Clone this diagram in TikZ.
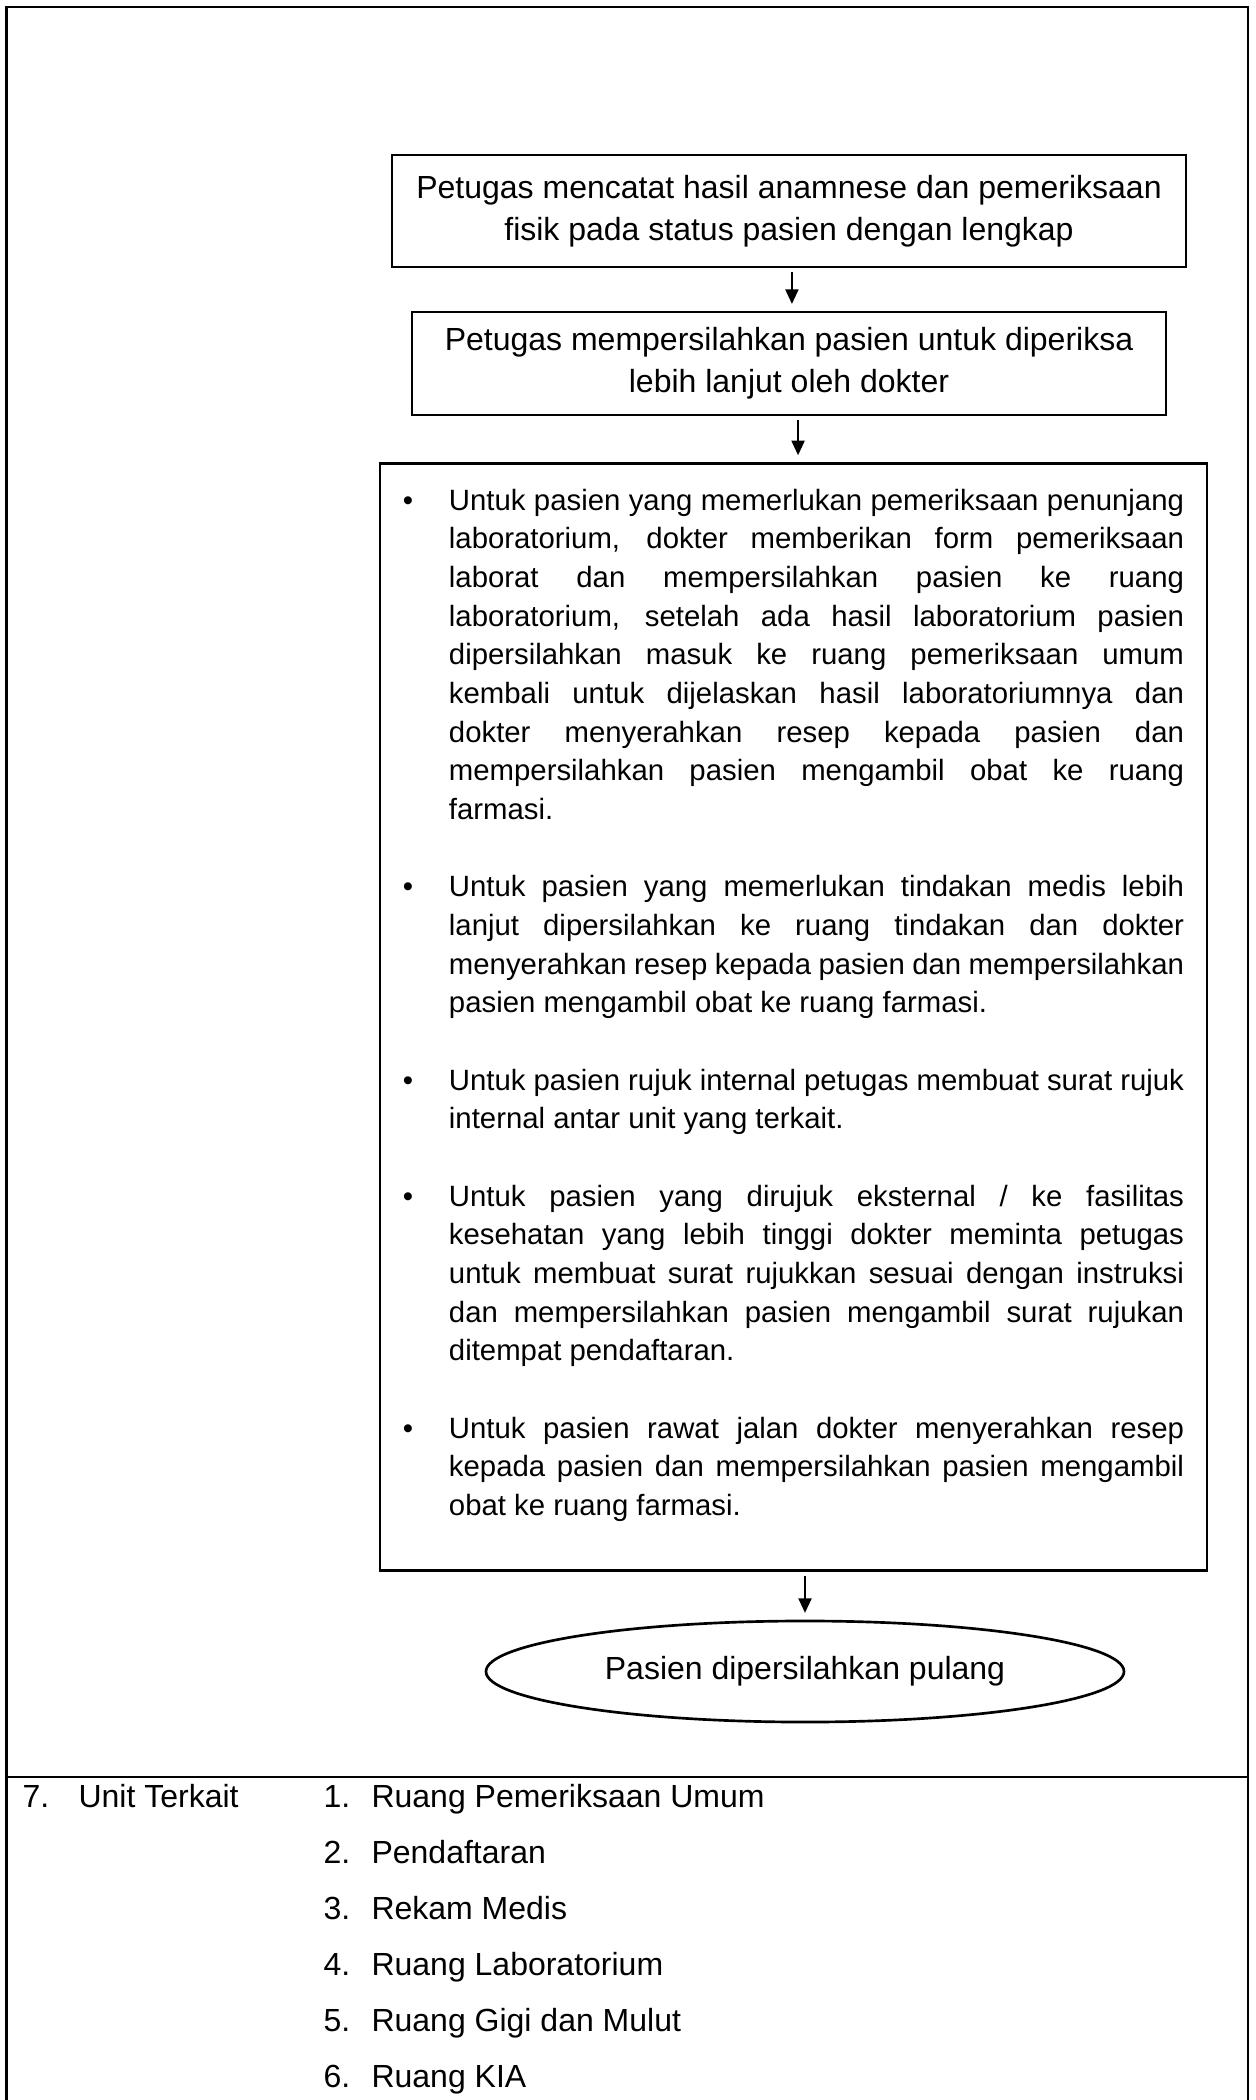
\documentclass[tikz,border=0pt]{standalone}
\usepackage{fontspec}
\setmainfont{Liberation Sans}
\usetikzlibrary{shapes.geometric,arrows.meta}
\hyphenpenalty=10000
\exhyphenpenalty=10000
\newcommand{\butir}{\par\noindent\hangindent=17.25pt\hangafter=1\makebox[17.25pt][l]{•}}
\newcommand{\jeda}{\par\vspace{14.5pt}}
\begin{document}
\begin{tikzpicture}[
x=0.375pt, y=-0.375pt,
box/.style={
draw,
line width=1pt,
align=center,
font=\fontsize{12}{15.6}\selectfont,
inner sep=0pt
},
bigbox/.style={
draw,
line width=1pt,
anchor=north,
align=justify,
font=\fontsize{11}{14.5}\selectfont,
text width=292.9pt,
inner xsep=8.6pt,
inner ysep=3pt
},
oval/.style={
draw,
ellipse,
line width=1pt,
inner sep=0pt,
minimum width=239.25pt,
minimum height=37.9pt,
font=\fontsize{12}{14.5}\selectfont
},
celltext/.style={anchor=base west, inner sep=0pt, font=\fontsize{12}{14.5}\selectfont},
frame/.style={line width=0.9pt},
arrow/.style={-{Triangle[length=5.5pt,width=4.8pt]}, line width=1pt, shorten <=1.5pt, shorten >=2.5pt}
]
\useasboundingbox (0,0) rectangle (1256,2100);
\draw[frame] (6.5,2100) -- (6.5,7) -- (1248,7) -- (1248,2100);
\draw[frame] (6.5,1777) -- (1248,1777);

\node[box, minimum width=297.75pt, minimum height=42pt] (catat) at (789,211)
{Petugas mencatat hasil anamnese dan pemeriksaan\\fisik pada status pasien dengan lengkap};
\node[box, minimum width=282.75pt, minimum height=38.6pt] (persilahkan) at (789,363.5)
{Petugas mempersilahkan pasien untuk diperiksa\\lebih lanjut oleh dokter};
\node[bigbox] (tindakan) at (793.5,462) {%
\butir Untuk pasien yang memerlukan pemeriksaan penunjang\linebreak
laboratorium, dokter memberikan form pemeriksaan\linebreak
laborat dan mempersilahkan pasien ke ruang\linebreak
laboratorium, setelah ada hasil laboratorium pasien\linebreak
dipersilahkan masuk ke ruang pemeriksaan umum\linebreak
kembali untuk dijelaskan hasil laboratoriumnya dan\linebreak
dokter menyerahkan resep kepada pasien dan\linebreak
mempersilahkan pasien mengambil obat ke ruang\linebreak
farmasi.\jeda
\butir Untuk pasien yang memerlukan tindakan medis lebih\linebreak
lanjut dipersilahkan ke ruang tindakan dan dokter\linebreak
menyerahkan resep kepada pasien dan mempersilahkan\linebreak
pasien mengambil obat ke ruang farmasi.\jeda
\butir Untuk pasien rujuk internal petugas membuat surat rujuk\linebreak
internal antar unit yang terkait.\jeda
\butir Untuk pasien yang dirujuk eksternal / ke fasilitas\linebreak
kesehatan yang lebih tinggi dokter meminta petugas\linebreak
untuk membuat surat rujukkan sesuai dengan instruksi\linebreak
dan mempersilahkan pasien mengambil surat rujukan\linebreak
ditempat pendaftaran.\jeda
\butir Untuk pasien rawat jalan dokter menyerahkan resep\linebreak
kepada pasien dan mempersilahkan pasien mengambil\linebreak
obat ke ruang farmasi.\rule[-17.6pt]{0pt}{0pt}\par};
\node[oval] (pulang) at (805,1671.5) {Pasien dipersilahkan pulang};

\draw[arrow] ([xshift=1.1pt]catat.south) -- ([xshift=1.1pt]persilahkan.north);
\draw[arrow] ([xshift=3.4pt]persilahkan.south) -- ([xshift=3.4pt]persilahkan.south |- tindakan.north);
\draw[arrow] (pulang.north |- tindakan.south) -- (pulang.north);

\node[celltext] (unitterkait) at (22,1807) {\makebox[21pt][l]{7.}Unit Terkait};
\node[celltext] (unit1) at (323,1807) {\makebox[18pt][l]{1.}Ruang Pemeriksaan Umum};
\node[celltext] (unit2) at (323,1863) {\makebox[18pt][l]{2.}Pendaftaran};
\node[celltext] (unit3) at (323,1919) {\makebox[18pt][l]{3.}Rekam Medis};
\node[celltext] (unit4) at (323,1975) {\makebox[18pt][l]{4.}Ruang Laboratorium};
\node[celltext] (unit5) at (323,2031) {\makebox[18pt][l]{5.}Ruang Gigi dan Mulut};
\node[celltext] (unit6) at (323,2087) {\makebox[18pt][l]{6.}Ruang KIA};
\end{tikzpicture}
\end{document}
